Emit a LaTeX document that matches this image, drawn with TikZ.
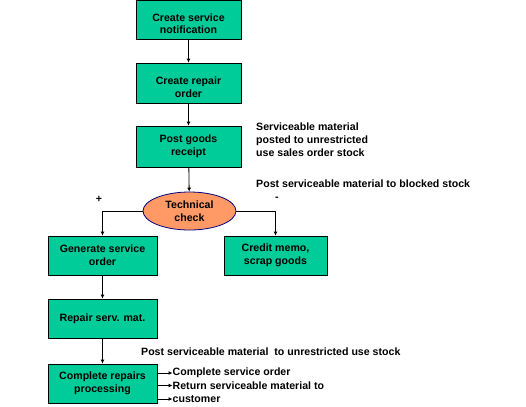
\documentclass[tikz,border=0pt]{standalone}
\usepackage{fontspec}
\setmainfont{Liberation Sans}
\usetikzlibrary{arrows.meta,shapes.geometric,positioning}
\definecolor{boxgreen}{RGB}{0,204,153}
\definecolor{ovalfill}{RGB}{255,153,102}
\definecolor{ovalline}{RGB}{0,0,128}
\begin{document}
\begin{tikzpicture}[x=1bp,y=-1bp,
  every node/.style={font=\fontsize{10.6bp}{12.8bp}\selectfont\bfseries},
  box/.style={draw=black, fill=boxgreen, align=center, inner sep=0pt, line width=0.8bp},
  boxtext/.style={align=center, inner sep=0pt},
  oval/.style={ellipse, draw=ovalline, fill=ovalfill, align=center, inner sep=0pt, line width=0.8bp},
  lbl/.style={anchor=west, align=left, inner sep=0pt},
  arr/.style={-{Latex[length=4bp,width=4bp]}, line width=0.8bp}]
\useasboundingbox (0,0) rectangle (526,406);
\node[box, minimum width=105bp, minimum height=38.5bp] (n1) at (188.5,19.75) {};
\node[boxtext] (n1t) at ([yshift=-4bp]n1.center) {Create service\\notification};
\node[box, minimum width=105bp, minimum height=40bp] (n2) at (188.5,83) {};
\node[boxtext] (n2t) at ([yshift=-4bp]n2.center) {Create repair\\order};
\node[box, minimum width=105bp, minimum height=41bp] (n3) at (188.5,146.5) {Post goods\\receipt};
\node[oval, minimum width=93bp, minimum height=38bp] (tc) at (189.5,211) {Technical\\check};
\node[box, minimum width=109bp, minimum height=39bp] (gen) at (102.5,255.5) {Generate service\\order};
\node[box, minimum width=103bp, minimum height=39bp] (cred) at (275.5,255.5) {Credit memo,\\scrap goods};
\node[box, minimum width=109bp, minimum height=39bp] (rep) at (102.5,318.5) {Repair serv. mat.};
\node[box, minimum width=109bp, minimum height=39bp] (comp) at (102.5,383.5) {Complete repairs\\processing};

\node[lbl] (t1) at (256,140) {Serviceable material\\posted to unrestricted\\use sales order stock};
\node[lbl] (t2) at (256,183.5) {Post serviceable material to blocked stock};
\node[inner sep=0pt] (plus) at (99,199) {+};
\node[inner sep=0pt] (minus) at (277,199) {-};
\node[lbl] (t3) at (141,352) {Post serviceable material\ \ to unrestricted use stock};
\node[lbl] (r1) at (172.5,373) {Complete service order};
\node[lbl] (r2) at (172.5,385.5) {Return serviceable material to};
\node[lbl] (r3) at (172.5,399) {customer};

\draw[arr] (n1) -- (n2);
\draw[arr] (n2) -- (n3);
\draw[arr] (n3) -- (tc);
\draw[arr] (tc.west) -| (gen.north);
\draw[arr] (tc.east) -| (cred.north);
\draw[arr] (gen) -- (rep);
\draw[arr] (rep) -- (comp);
\draw[arr] (comp.east |- r1.west) -- (r1.west);
\draw[arr] (comp.east |- r2.west) -- (r2.west);
\draw[arr] (comp.east |- r3.west) -- (r3.west);
\end{tikzpicture}
\end{document}
